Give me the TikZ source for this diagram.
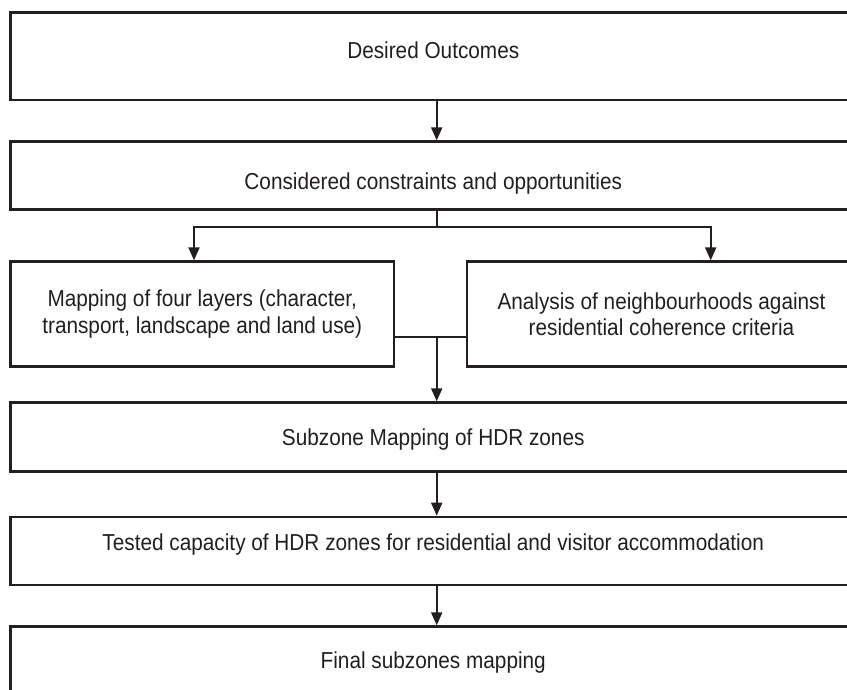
\documentclass[tikz,border=0pt]{standalone}
\usepackage{fontspec}
\setmainfont{Liberation Sans}[FakeStretch=0.9]
\usetikzlibrary{arrows.meta}

\begin{document}
\begin{tikzpicture}[
  stagebox/.style={draw, rectangle, line width=0.080000cm, inner sep=0pt, align=center},
  capline/.style={text height=#1, text depth=0cm},
  link/.style={line width=0.060000cm},
  linkarrow/.style={link, -{Triangle[length=0.390000cm,width=0.330000cm]}},
  forkarrow/.style={link, {Triangle[length=0.390000cm,width=0.330000cm]}-{Triangle[length=0.390000cm,width=0.330000cm]}}]
                        \useasboundingbox (0,0) rectangle (25.410000,20.670000);
                        \clip (0,0) rectangle (25.410000,20.670000);
                        {\fontsize{19.7}{22.7}\selectfont

                        % Changing color 35 31 32
                        \definecolor{r35g31b32}{rgb}{0.137255,0.121569,0.125490}%
                        \color{r35g31b32}%

                        % Drawing box Desired Outcomes
                        \draw (12.997500,18.979500) node [stagebox, capline=0.496000cm, text depth=0.390000cm, minimum width=25.365000cm, minimum height=2.619000cm] (outcomes) {Desired Outcomes};%

                        % Drawing box constraints
                        \draw (12.997500,15.405000) node [stagebox, capline=0.856000cm, minimum width=25.365000cm, minimum height=2.028000cm] (constraints) {Considered constraints and opportunities};%

                        % Drawing box four layers
                        \draw (6.067500,11.244000) node [stagebox, minimum width=11.505000cm, minimum height=3.150000cm] (layers) {Mapping of four layers (character,\\transport, landscape and land use)};%

                        % Drawing box neighbourhoods
                        \draw (19.845000,11.244000) node [stagebox, minimum width=11.670000cm, minimum height=3.150000cm] (neighbourhoods) {Analysis of neighbourhoods against\\residential coherence criteria};%

                        % Drawing box subzones
                        \draw (12.997500,7.554000) node [stagebox, capline=0.496000cm, minimum width=25.365000cm, minimum height=2.070000cm] (subzones) {Subzone Mapping of HDR zones};%

                        % Drawing box capacity
                        \draw (12.997500,4.140000) node [stagebox, capline=0.496000cm, text depth=0.540000cm, minimum width=25.365000cm, minimum height=2.040000cm] (capacity) {Tested capacity of HDR zones for residential and visitor accommodation};%

                        % Drawing box final
                        \draw (12.997500,0.849000) node [stagebox, capline=0.496000cm, minimum width=25.365000cm, minimum height=2.040000cm] (final) {Final subzones mapping};%

                        % Marking points of the connectors
                        \coordinate (axis) at (13.101000,0.000000);%
                        \coordinate (split) at (13.101000,13.860000);%
                        \coordinate (leftdrop) at (5.820000,13.860000);%
                        \coordinate (rightdrop) at (21.321000,13.860000);%
                        \coordinate (merge) at (13.101000,10.551000);%

                        % Drawing arrow outcomes constraints
                        \draw [linkarrow] (outcomes.south -| axis) -- (constraints.north -| axis);%

                        % Drawing segment constraints split
                        \draw [link] (constraints.south -| axis) -- (split);%

                        % Drawing fork split layers neighbourhoods
                        \draw [forkarrow] (layers.north -| leftdrop) -- (leftdrop) -- (rightdrop) -- (neighbourhoods.north -| rightdrop);%

                        % Drawing segment layers neighbourhoods
                        \draw [link] (layers.east |- merge) -- (neighbourhoods.west |- merge);%

                        % Drawing arrow merge subzones
                        \draw [linkarrow] (merge) -- (subzones.north -| merge);%

                        % Drawing arrow subzones capacity
                        \draw [linkarrow] (subzones.south -| axis) -- (capacity.north -| axis);%

                        % Drawing arrow capacity final
                        \draw [linkarrow] (capacity.south -| axis) -- (final.north -| axis);%
                        \color{black}
                        }
                    \end{tikzpicture}
\end{document}
